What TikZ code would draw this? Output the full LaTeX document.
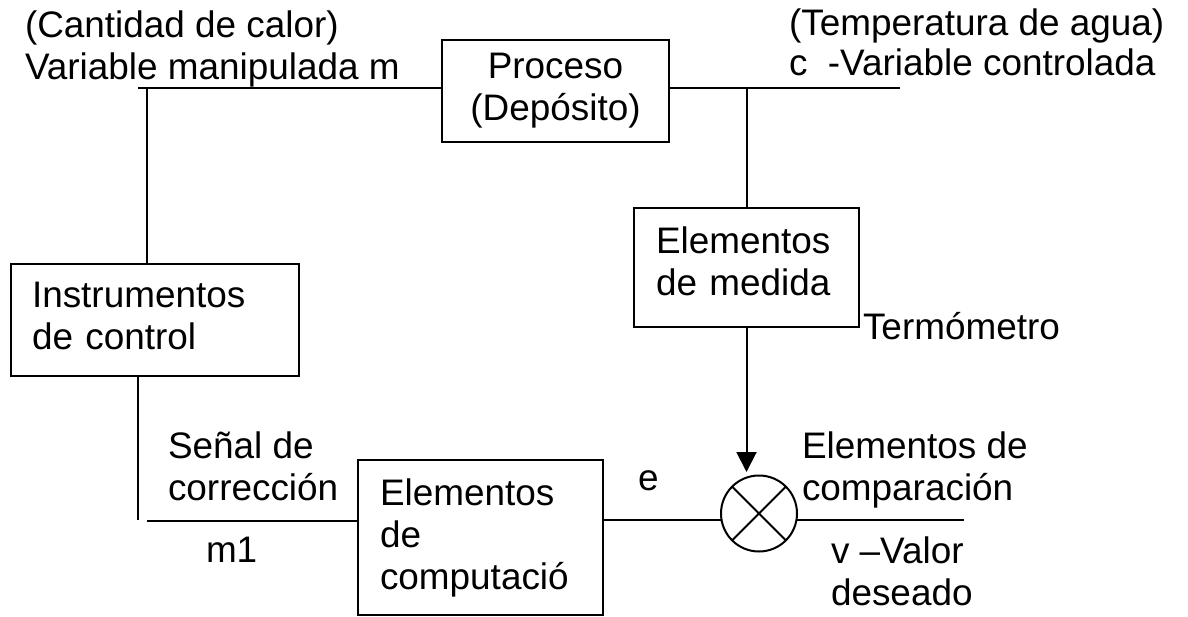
\documentclass[tikz,border=0pt]{standalone}
\usepackage{fontspec}
\setmainfont{Liberation Sans}
\usetikzlibrary{arrows.meta}
\newcommand\dpt[1]{\rule[-#1]{0pt}{#1}}
\begin{document}
\begin{tikzpicture}[x=1pt,y=-1pt,
  every node/.style={font=\fontsize{36.9pt}{42pt}\selectfont, inner sep=0pt, outer sep=0pt},
  ln/.style={line width=2pt},
  blk/.style={draw, line width=2pt, rectangle, inner ysep=0pt, align=left},
  lbl/.style={align=left}]
\fill[white] (0,0) rectangle (1188,617);
\useasboundingbox (0,0) rectangle (1188,617);

% blocks
\node[blk, inner xsep=10pt, text width=207pt, align=center, minimum height=102pt] (proc) at (555.5,91) {Proceso\\(Depósito)};
\node[blk, inner xsep=21pt, text width=246pt, minimum height=112pt] (inst) at (155,320) {Instrumentos\\de control\dpt{8.4pt}};
\node[blk, inner xsep=22pt, text width=181pt, minimum height=119pt] (meas) at (746.5,267.5) {Elementos\\de medida\dpt{13.4pt}};
\node[blk, inner xsep=22pt, text width=201pt, minimum height=155pt] (comp) at (480.5,537.5) {Elementos\\de\\computació};
\node[draw, circle, line width=2pt, minimum size=76pt] (cmp) at (759,513.5) {};
\draw[ln] (cmp.north west) -- (cmp.south east) (cmp.north east) -- (cmp.south west);

% free ends
\coordinate (lt) at (138,88);
\coordinate (vl) at (147,88);
\coordinate (rt) at (900,88);
\coordinate (vb) at (138,520);
\coordinate (hb) at (147,521);
\coordinate (vr) at (964,520);

% connectors
\draw[ln] (lt) -- (lt -| proc.west);
\draw[ln] (vl) -- (vl |- inst.north);
\draw[ln] (rt -| proc.east) -- (rt);
\draw[ln] (meas.north |- rt) -- (meas.north);
\draw[ln, -{Triangle[length=20pt,width=20pt]}, shorten >=3.5pt] (meas.south) -- (meas.south |- cmp.north);
\draw[ln] (vb |- inst.south) -- (vb);
\draw[ln] (hb) -- (hb -| comp.west);
\draw[ln] (vr -| comp.east) -- (vr -| cmp.west);
\draw[ln] (vr -| cmp.east) -- (vr);

% labels
\node[anchor=base west] (cal) at (25,38) {(Cantidad de calor)};
\node[anchor=base west] (vm) at (25,80) {Variable manipulada m};
\node[anchor=base west] (tem) at (789,36) {(Temperatura de agua)};
\node[anchor=base west] (vc) at (789,76) {c\ \ -Variable controlada};
\node[anchor=base west] (ter) at (863,340) {Termómetro};
\node[lbl, anchor=north west] (ecomp) at (802,431.6) {Elementos de\\comparación};
\node[lbl, anchor=north west] (vd) at (831,536.6) {v –Valor\\deseado};
\node[lbl, anchor=north west] (sen) at (168,432.2) {Señal de\\corrección};
\node[anchor=base west] (m1) at (206,562) {m1};
\node[anchor=base west] (e) at (638,490) {e};
\end{tikzpicture}
\end{document}
